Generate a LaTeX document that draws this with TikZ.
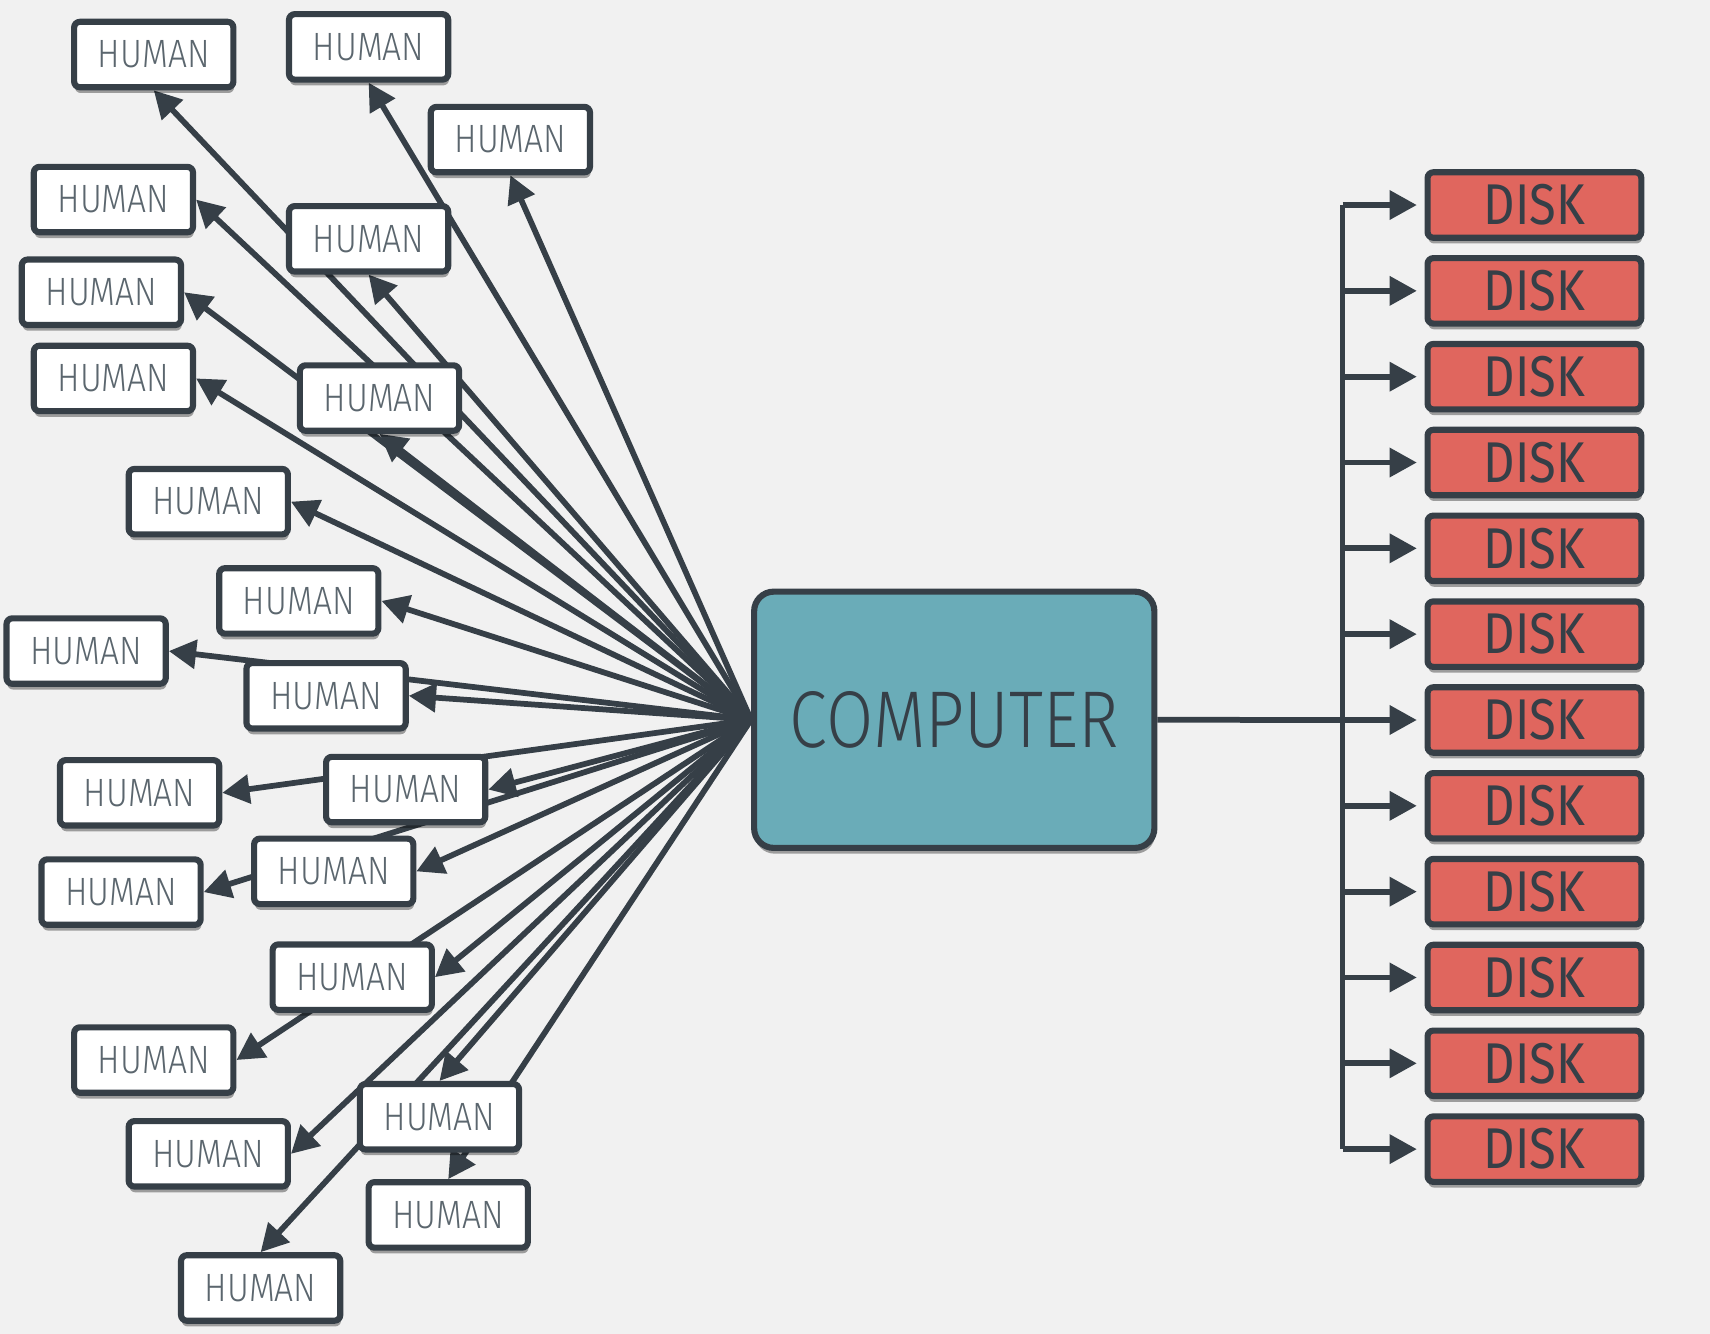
\documentclass[tikz,border=0pt]{standalone}
\usepackage{fontspec}
\newfontfamily\lightfont{Fira Sans Light}[FakeStretch=0.85]
\newfontfamily\diskfont{Fira Sans}[FakeStretch=0.85]
\usetikzlibrary{arrows.meta,shadows}
\definecolor{ink}{HTML}{363F47}
\definecolor{humantext}{HTML}{5B666E}
\definecolor{paper}{HTML}{F1F1F1}
\definecolor{compfill}{HTML}{6AACB8}
\definecolor{diskfill}{HTML}{E0665E}
\pgfdeclarelayer{bg}
\pgfsetlayers{bg,main}
\tikzset{
	box/.style={draw=ink, line width=1.6pt, rounded corners=1.5pt, inner sep=0pt,
			drop shadow={shadow xshift=0.2pt, shadow yshift=-1.5pt, fill=black, opacity=0.35}},
	human/.style={box, fill=white, minimum width=1.46cm, minimum height=0.60cm,
			text=humantext, font=\lightfont\fontsize{10.3}{11}\selectfont},
	disk/.style={box, fill=diskfill, minimum width=1.96cm, minimum height=0.60cm,
			text=ink, font=\diskfont\fontsize{15}{16}\selectfont},
	wire/.style={draw=ink, line width=1.5pt},
	tip/.style={wire, -{Triangle[length=0.25cm, width=0.26cm]}}
}

\begin{document}
\begin{tikzpicture}
		\useasboundingbox (0, 0) rectangle (15.68, 12.23);

		% the computer in the middle
		\node[box, fill=compfill, rounded corners=0.18cm, minimum width=3.67cm, minimum height=2.35cm,
			text=ink, font=\lightfont\fontsize{21}{22}\selectfont] (comp) at (8.75, 5.63) {COMPUTER};

		% humans on the left
		\foreach \n/\x/\y in {1/1.41/11.73, 2/3.38/11.80, 3/4.68/10.95, 4/1.04/10.40,
				5/3.38/10.04, 6/0.93/9.55, 7/1.04/8.76, 8/3.48/8.58,
				9/1.91/7.63, 10/2.74/6.72, 11/0.79/6.26, 12/2.99/5.85,
				13/1.28/4.96, 14/3.72/4.99, 15/1.11/4.05, 16/3.06/4.24,
				17/3.23/3.27, 18/1.41/2.51, 19/1.91/1.65, 20/4.03/1.99,
				21/4.11/1.09, 22/2.39/0.42} {
			\node[human] (h\n) at (\x, \y) {HUMAN};
		}

		% disks on the right
		\foreach \i in {1, ..., 12} {
			\node[disk] (d\i) at (14.07, {10.35 - (\i - 1) * 0.787}) {DISK};
		}
		\coordinate (bus) at (12.31, 5.63);

		\begin{pgfonlayer}{bg}
			\fill[paper] (0, 0) rectangle (15.68, 12.23);

			\foreach \n/\a in {1/south, 2/south, 3/south, 4/east, 5/south, 6/east,
					7/east, 8/south, 9/east, 10/east, 11/east, 12/east, 13/east,
					14/east, 15/east, 16/east, 17/east, 18/east, 19/east,
					20/north, 21/north, 22/north} {
				\draw[tip] (comp.west) -- (h\n.\a);
			}

			\draw[wire] (comp.east) -- (bus |- d7.west);
			\draw[wire] (bus |- d1.west) -- (bus |- d12.west);
			\foreach \i in {1, ..., 12} {
				\draw[tip, shorten >=2pt] (bus |- d\i.west) -- (d\i.west);
			}
		\end{pgfonlayer}
	\end{tikzpicture}
\end{document}
